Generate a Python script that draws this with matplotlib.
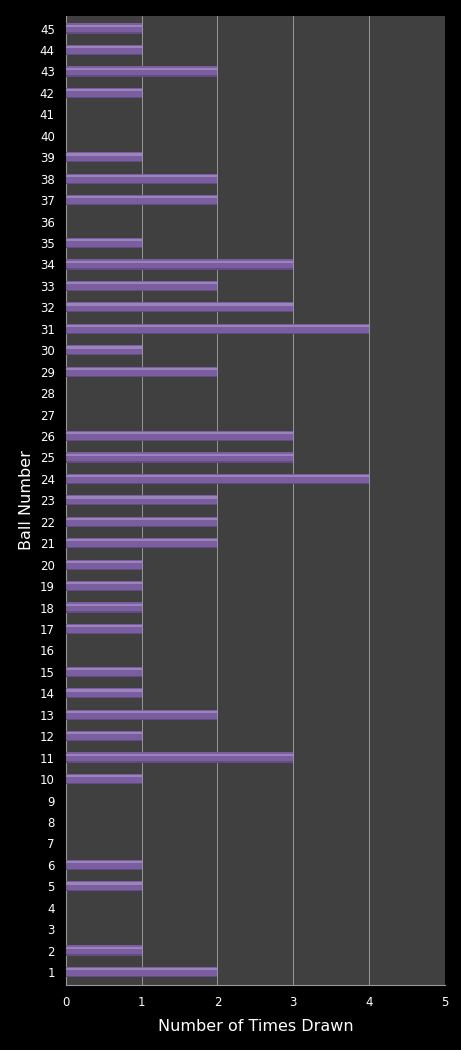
import matplotlib
matplotlib.use("Agg")
import matplotlib.pyplot as plt

# Ball numbers 1..45 and how many times each was drawn
balls = list(range(1, 46))
times_drawn = [2, 1, 0, 0, 1, 1, 0, 0, 0, 1,
               3, 1, 2, 1, 1, 0, 1, 1, 1, 1,
               2, 2, 2, 4, 3, 3, 0, 0, 2, 1,
               4, 3, 2, 3, 1, 0, 2, 2, 1, 0,
               0, 1, 2, 1, 1]
x_ticks = [0, 1, 2, 3, 4, 5]

fig = plt.figure(figsize=(4.61, 10.5), dpi=100, facecolor="black")
ax = fig.add_axes([0.143, 0.062, 0.822, 0.923])
ax.set_facecolor("#404040")

# main bar body, then a softer highlight on the top part and a dark edge below
ax.barh(balls, times_drawn, height=0.48, color="#7a5e9f", edgecolor="none", zorder=3)
ax.barh([b + 0.13 for b in balls], times_drawn, height=0.1, color="#9a84bb",
        edgecolor="none", zorder=4)
ax.barh([b - 0.21 for b in balls], times_drawn, height=0.06, color="#634b84",
        edgecolor="none", zorder=4)

ax.set_xlim(0, 5)
ax.set_ylim(0.4, 45.6)
ax.set_xticks(x_ticks)
ax.set_yticks(balls)
ax.xaxis.grid(True, color="#989898", linewidth=0.7, zorder=1)
ax.set_axisbelow(True)

for s in ax.spines.values():
    s.set_color("#989898")
    s.set_linewidth(0.8)
ax.spines["top"].set_visible(False)
ax.spines["right"].set_visible(False)

ax.tick_params(axis="both", colors="white", labelsize=8.5, length=0, pad=8)
ax.set_xlabel("Number of Times Drawn", color="white", fontsize=11.5, labelpad=7)
ax.set_ylabel("Ball Number", color="white", fontsize=11.5, labelpad=4)

plt.savefig("out.png", dpi=100, facecolor="black")
plt.close()
